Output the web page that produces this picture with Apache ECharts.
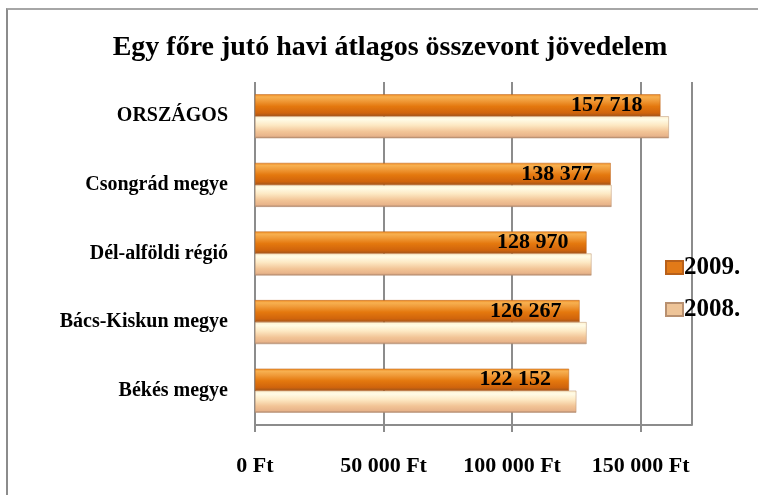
<!DOCTYPE html>
<html>
<head>
<meta charset="utf-8">
<script src="https://cdn.jsdelivr.net/npm/echarts@6/dist/echarts.min.js"></script>
<style>
html,body{margin:0;padding:0;background:#fff;}
#frame{position:absolute;left:6px;top:8px;width:800px;height:600px;border-left:2px solid #8c8c8c;border-top:2px solid #a6a6a6;box-sizing:border-box;}
#c{position:absolute;left:0;top:0;width:758px;height:495px;}
</style>
</head>
<body>
<div id="frame"></div>
<div id="c"></div>
<script>
const titleText = 'Egy főre jutó havi átlagos összevont jövedelem';
const categories = ['ORSZÁGOS', 'Csongrád megye', 'Dél-alföldi régió', 'Bács-Kiskun megye', 'Békés megye'];
const values2009 = [157718, 138377, 128970, 126267, 122152];
const values2008 = [161000, 138700, 130900, 129000, 125000];
const seriesNames = ['2009.', '2008.'];
const xTicks = [0, 50000, 100000, 150000];

function fmt(v) {
  return String(Math.round(v)).replace(/\B(?=(\d{3})+(?!\d))/g, ' ');
}

const serif = '"Liberation Serif", "DejaVu Serif", serif';

const grad2009 = new echarts.graphic.LinearGradient(0, 0, 0, 1, [
  {offset: 0, color: '#f08a20'},
  {offset: 0.12, color: '#f7b050'},
  {offset: 0.3, color: '#f09a38'},
  {offset: 0.55, color: '#e4780e'},
  {offset: 0.85, color: '#d0640c'},
  {offset: 1, color: '#a0541c'}
]);
const grad2008 = new echarts.graphic.LinearGradient(0, 0, 0, 1, [
  {offset: 0, color: '#fff2d0'},
  {offset: 0.15, color: '#fffbe6'},
  {offset: 0.4, color: '#fde9c4'},
  {offset: 0.7, color: '#f2c496'},
  {offset: 0.9, color: '#e8b48a'},
  {offset: 1, color: '#a8826a'}
]);

const chart = echarts.init(document.getElementById('c'), null, {renderer: 'canvas'});
chart.setOption({
  animation: false,
  backgroundColor: 'transparent',
  title: {
    text: titleText,
    left: 385, top: 29, textAlign: 'center',
    textStyle: {fontFamily: serif, fontSize: 28, fontWeight: 'bold', color: '#000'}
  },
  legend: {
    orient: 'vertical',
    left: 660, top: 250,
    itemWidth: 17, itemHeight: 13, itemGap: 17,
    data: [
      {name: seriesNames[0], icon: 'rect', itemStyle: {color: '#e27a18'}},
      {name: seriesNames[1], icon: 'rect', itemStyle: {color: '#eec498'}}
    ],
    textStyle: {fontFamily: serif, fontSize: 25, fontWeight: 'bold', color: '#000', padding: [0, 0, 0, -4]}
  },
  grid: {left: 255, right: 66, top: 82, bottom: 70, containLabel: false},
  xAxis: {
    type: 'value', min: 0, max: 170000, interval: 50000,
    axisLine: {show: true, lineStyle: {color: '#8c8c8c', width: 2}},
    axisTick: {show: true, inside: false, length: 7, lineStyle: {color: '#8c8c8c', width: 2}},
    splitLine: {show: true, lineStyle: {color: '#8c8c8c', width: 2}},
    axisLabel: {
      showMaxLabel: false,
      margin: 30,
      fontFamily: serif, fontSize: 22, fontWeight: 'bold', color: '#000',
      formatter: v => xTicks.includes(v) ? fmt(v) + ' Ft' : ''
    }
  },
  yAxis: {
    type: 'category', inverse: true, data: categories,
    axisLine: {show: false}, axisTick: {show: false},
    axisLabel: {margin: 27, fontFamily: serif, fontSize: 20, fontWeight: 'bold', color: '#000'}
  },
  series: [
    {
      name: seriesNames[0], type: 'bar', data: values2009,
      barWidth: 22, barGap: '0%',
      itemStyle: {color: grad2009, borderColor: '#b8601a', borderWidth: 0.5},
      label: {
        show: true, position: 'insideRight', distance: 18,
        formatter: p => fmt(p.value),
        fontFamily: serif, fontSize: 22, fontWeight: 'bold', color: '#000'
      },
      z: 3
    },
    {
      name: seriesNames[1], type: 'bar', data: values2008,
      barWidth: 22,
      itemStyle: {color: grad2008, borderColor: '#b89070', borderWidth: 0.5},
      z: 2
    }
  ]
});
</script>
</body>
</html>
